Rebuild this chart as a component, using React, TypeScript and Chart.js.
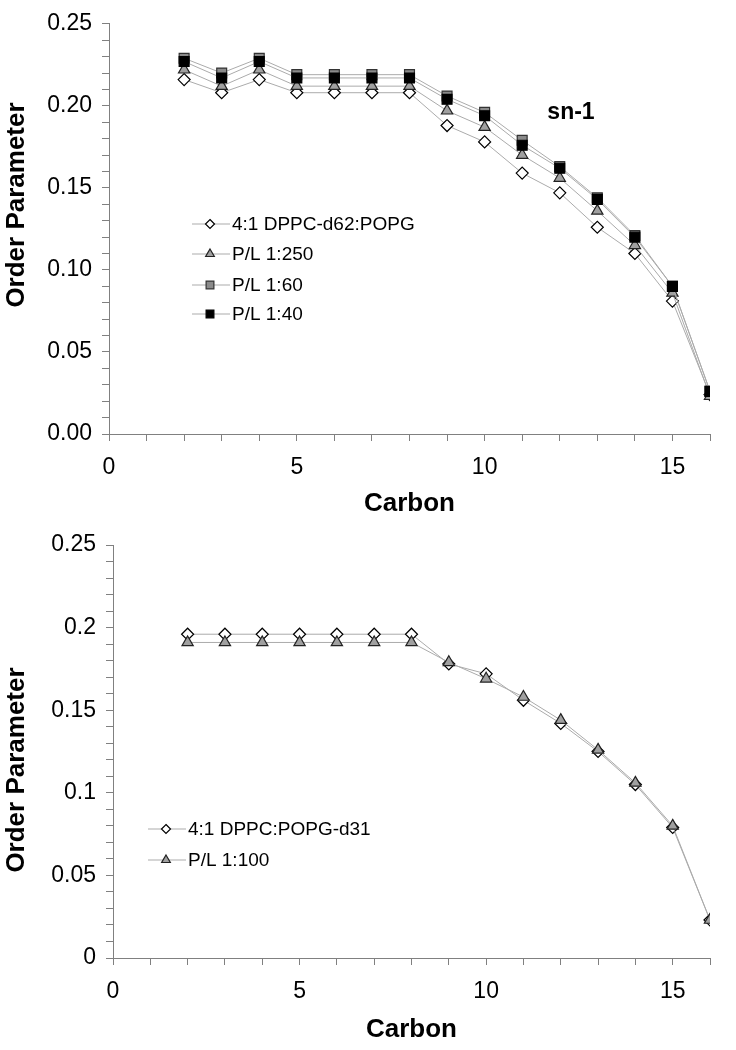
import React, { useEffect, useRef } from "react";
import { Chart, registerables } from "chart.js";

Chart.register(...registerables);

// ---------- data ----------
const carbons = [2, 3, 4, 5, 6, 7, 8, 9, 10, 11, 12, 13, 14, 15, 16];

// top panel (sn-1)
const topLabels = ["4:1 DPPC-d62:POPG", "P/L 1:250", "P/L 1:60", "P/L 1:40"];
const dppcD62 = [0.216, 0.208, 0.216, 0.208, 0.208, 0.208, 0.208, 0.188, 0.178, 0.159, 0.147, 0.126, 0.110, 0.081, 0.024];
const pl250 = [0.222, 0.212, 0.222, 0.212, 0.212, 0.212, 0.212, 0.197, 0.187, 0.170, 0.156, 0.136, 0.115, 0.086, 0.023];
const pl60 = [0.229, 0.220, 0.229, 0.219, 0.219, 0.219, 0.219, 0.206, 0.196, 0.179, 0.163, 0.144, 0.121, 0.090, 0.026];
const pl40 = [0.227, 0.217, 0.227, 0.217, 0.217, 0.217, 0.217, 0.204, 0.194, 0.176, 0.162, 0.143, 0.120, 0.090, 0.026];

// bottom panel
const bottomLabels = ["4:1 DPPC:POPG-d31", "P/L 1:100"];
const popgD31 = [0.196, 0.196, 0.196, 0.196, 0.196, 0.196, 0.196, 0.178, 0.172, 0.156, 0.142, 0.125, 0.105, 0.079, 0.023];
const pl100 = [0.191, 0.191, 0.191, 0.191, 0.191, 0.191, 0.191, 0.179, 0.169, 0.158, 0.144, 0.126, 0.106, 0.080, 0.023];

const xTitle = "Carbon";
const yTitle = "Order Parameter";
const panelNote = "sn-1";

// ---------- styles ----------
const FONT = "'Liberation Sans', Arial, sans-serif";
const LINE = "#ababab";
const AXIS = "#808080";

type Marker = { shape: "diamond" | "triangle" | "square"; fill: string; stroke: string; r: number; lr: number };
const MK_DIAMOND: Marker = { shape: "diamond", fill: "#ffffff", stroke: "#000000", r: 6, lr: 4.5 };
const MK_TRI: Marker = { shape: "triangle", fill: "#a0a0a0", stroke: "#222222", r: 6.5, lr: 5 };
const MK_GREY: Marker = { shape: "square", fill: "#8a8a8a", stroke: "#333333", r: 7, lr: 5.5 };
const MK_BLACK: Marker = { shape: "square", fill: "#000000", stroke: "#000000", r: 7, lr: 5.5 };

function pointStyleOf(m: Marker) {
  return m.shape === "diamond" ? "rectRot" : m.shape === "triangle" ? "triangle" : "rect";
}

function drawMarker(ctx: CanvasRenderingContext2D, m: Marker, x: number, y: number, r: number) {
  ctx.save();
  ctx.beginPath();
  if (m.shape === "diamond") {
    ctx.moveTo(x, y - r);
    ctx.lineTo(x + r, y);
    ctx.lineTo(x, y + r);
    ctx.lineTo(x - r, y);
    ctx.closePath();
  } else if (m.shape === "triangle") {
    const h = r * 0.866;
    ctx.moveTo(x, y - r);
    ctx.lineTo(x + h, y + r / 2);
    ctx.lineTo(x - h, y + r / 2);
    ctx.closePath();
  } else {
    const s = r * 0.707;
    ctx.rect(x - s, y - s, 2 * s, 2 * s);
  }
  ctx.fillStyle = m.fill;
  ctx.fill();
  ctx.lineWidth = 1.2;
  ctx.strokeStyle = m.stroke;
  ctx.stroke();
  ctx.restore();
}

type Series = { label: string; data: number[]; marker: Marker; order: number };

type PanelProps = {
  top: number;
  height: number;
  padTop: number;
  axisLeft: number;
  chartBottom: number;
  titleBottomPad: number;
  yTitleCenter: number;
  twoDecimals: boolean;
  series: Series[];
  legendX: number; // line start x
  legendRows: number[]; // row y (canvas coords)
  note?: { text: string; x: number; y: number };
};

function Panel(props: PanelProps) {
  const ref = useRef<HTMLCanvasElement | null>(null);

  useEffect(() => {
    const canvas = ref.current;
    if (!canvas) return;
    const H = props.height;

    const overlayPlugin = {
      id: "overlay",
      afterDraw(chart: any) {
        const ctx = chart.ctx as CanvasRenderingContext2D;
        ctx.save();
        // legend
        props.series.forEach((s, i) => {
          const y = props.legendRows[i];
          const x0 = props.legendX;
          ctx.beginPath();
          ctx.moveTo(x0, y);
          ctx.lineTo(x0 + 38, y);
          ctx.strokeStyle = LINE;
          ctx.lineWidth = 1;
          ctx.stroke();
          drawMarker(ctx, s.marker, x0 + 18, y, s.marker.lr);
          ctx.fillStyle = "#000";
          ctx.font = `19px ${FONT}`;
          ctx.textAlign = "left";
          ctx.textBaseline = "middle";
          ctx.fillText(s.label, x0 + 40, y + 1);
        });
        // y axis title
        ctx.save();
        ctx.translate(17, props.yTitleCenter);
        ctx.rotate(-Math.PI / 2);
        ctx.font = `bold 26px ${FONT}`;
        ctx.textAlign = "center";
        ctx.textBaseline = "middle";
        ctx.fillStyle = "#000";
        ctx.fillText(yTitle, 0, 0);
        ctx.restore();
        // panel note
        if (props.note) {
          const xs = chart.scales.x;
          const ys = chart.scales.y;
          ctx.font = `bold 23px ${FONT}`;
          ctx.textAlign = "center";
          ctx.textBaseline = "middle";
          ctx.fillStyle = "#000";
          ctx.fillText(props.note.text, xs.getPixelForValue(props.note.x), ys.getPixelForValue(props.note.y));
        }
        ctx.restore();
      },
    };

    const chart = new Chart(canvas, {
      type: "line",
      data: {
        datasets: props.series.map((s) => ({
          label: s.label,
          data: carbons.map((c, i) => ({ x: c, y: s.data[i] })),
          borderColor: LINE,
          borderWidth: 1,
          pointStyle: pointStyleOf(s.marker),
          pointRadius: s.marker.r,
          pointHoverRadius: s.marker.r,
          pointBackgroundColor: s.marker.fill,
          pointBorderColor: s.marker.stroke,
          pointBorderWidth: 1.2,
          tension: 0,
          fill: false,
          order: s.order,
        })),
      },
      options: {
        animation: false,
        responsive: false,
        maintainAspectRatio: false,
        events: [],
        layout: { padding: { top: props.padTop, right: 26, left: 0, bottom: 0 } },
        plugins: {
          legend: { display: false },
          tooltip: { enabled: false },
          title: { display: false },
        },
        scales: {
          x: {
            type: "linear",
            min: 0,
            max: 16,
            afterFit: (scale: any) => {
              scale.height = H - props.chartBottom;
            },
            ticks: {
              stepSize: 1,
              autoSkip: false,
              maxRotation: 0,
              padding: 13,
              color: "#000",
              font: { family: FONT, size: 23 },
              callback: (v: any) => (Math.round(Number(v)) % 5 === 0 ? String(Math.round(Number(v))) : ""),
            },
            grid: { drawOnChartArea: false, drawTicks: true, tickLength: 7, color: AXIS },
            border: { display: true, color: AXIS, width: 1 },
            title: {
              display: true,
              text: xTitle,
              color: "#000",
              font: { family: FONT, size: 26, weight: "bold", lineHeight: 1 },
              padding: { top: 0, bottom: props.titleBottomPad },
            },
          },
          y: {
            type: "linear",
            min: 0,
            max: 0.25,
            afterFit: (scale: any) => {
              scale.width = props.axisLeft;
            },
            ticks: {
              stepSize: 0.01,
              autoSkip: false,
              padding: 10,
              color: "#000",
              font: { family: FONT, size: 23 },
              callback: (v: any) => {
                const k = Math.round(Number(v) * 100);
                if (k % 5 !== 0) return "";
                return props.twoDecimals ? (k / 100).toFixed(2) : String(k / 100);
              },
            },
            grid: { drawOnChartArea: false, drawTicks: true, tickLength: 7, color: AXIS },
            border: { display: true, color: AXIS, width: 1 },
            title: { display: false },
          },
        },
      } as any,
      plugins: [overlayPlugin],
    });

    return () => chart.destroy();
  }, []);

  return (
    <canvas
      ref={ref}
      width={736}
      height={props.height}
      style={{ position: "absolute", left: 0, top: props.top, width: 736, height: props.height, display: "block" }}
    />
  );
}

export default function App() {
  const topSeries: Series[] = [
    { label: topLabels[0], data: dppcD62, marker: MK_DIAMOND, order: 4 },
    { label: topLabels[1], data: pl250, marker: MK_TRI, order: 3 },
    { label: topLabels[2], data: pl60, marker: MK_GREY, order: 2 },
    { label: topLabels[3], data: pl40, marker: MK_BLACK, order: 1 },
  ];
  const bottomSeries: Series[] = [
    { label: bottomLabels[0], data: popgD31, marker: MK_DIAMOND, order: 2 },
    { label: bottomLabels[1], data: pl100, marker: MK_TRI, order: 1 },
  ];
  return (
    <div style={{ position: "absolute", left: 0, top: 0, width: 736, height: 1050, background: "#fff", overflow: "hidden" }}>
      <Panel
        top={0}
        height={520}
        padTop={19}
        axisLeft={109}
        chartBottom={434}
        titleBottomPad={3}
        yTitleCenter={205}
        twoDecimals={true}
        series={topSeries}
        legendX={192}
        legendRows={[224, 254, 285, 314]}
        note={{ text: panelNote, x: 12.3, y: 0.196 }}
      />
      <Panel
        top={520}
        height={530}
        padTop={25}
        axisLeft={113}
        chartBottom={438}
        titleBottomPad={7}
        yTitleCenter={250}
        twoDecimals={false}
        series={bottomSeries}
        legendX={148}
        legendRows={[309, 340]}
      />
    </div>
  );
}
